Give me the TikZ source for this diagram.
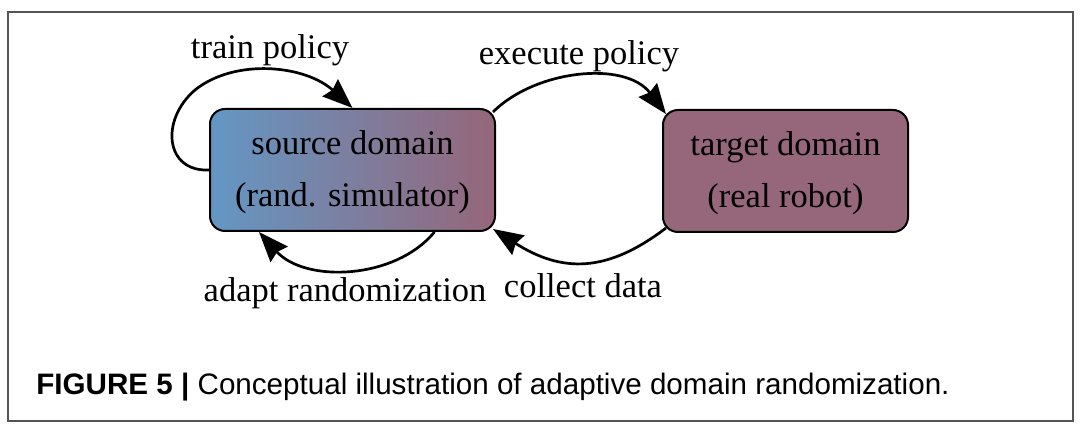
\documentclass[tikz,border=0pt]{standalone}
\usepackage{fontspec}
\setmainfont{Liberation Serif}
\newfontfamily\capfont{Liberation Sans}
\usetikzlibrary{arrows.meta}
\definecolor{srcblue}{RGB}{99,151,196}
\definecolor{mauve}{RGB}{150,102,122}
\definecolor{framegray}{RGB}{85,85,85}
\tikzset{
  domainbox/.style={draw=black, line width=1pt, rounded corners=7.5pt,
    align=center, inner sep=0pt, font=\fontsize{17.25}{26}\selectfont},
  flow/.style={draw=black, line width=1.35pt,
    -{Stealth[length=15pt,width=11.5pt,inset=1.5pt]}},
  lbl/.style={anchor=base, inner sep=0pt, font=\fontsize{17.25}{20}\selectfont},
}
\begin{document}
\begin{tikzpicture}[x=0.5pt, y=-0.5pt]
\useasboundingbox (0,0) rectangle (1084,432);
\draw[framegray, line width=0.75pt] (8,12) rectangle (1073,421);

\node[domainbox, left color=srcblue, right color=mauve,
      minimum width=142.5pt, minimum height=61pt] (src) at (352.5,170)
  {\rule{0pt}{14pt}source domain\\(rand. simulator)};
\node[domainbox, fill=mauve,
      minimum width=122.5pt, minimum height=61pt] (tgt) at (785.5,171)
  {\rule{0pt}{14pt}target domain\\(real robot)};

% train policy loop
\draw[flow] (src.west) .. controls (165,172) and (160,120) .. (195,90)
  .. controls (235,58) and (305,65) .. (src.north);
% execute policy
\draw[flow] ([shift={(-3,4)}]src.north east) .. controls (535,70) and (625,60) .. ([shift={(4,5)}]tgt.north west);
% collect data
\draw[flow] ([shift={(4,-5)}]tgt.south west) .. controls (607,273) and (562,273) .. ([shift={(-3,-3)}]src.south east);
% adapt randomization
\draw[flow] ([shift={(82,0)}]src.south) .. controls (395,280) and (305,283) .. ([shift={(-93.5,0)}]src.south);

\node[lbl] (ltrain) at (270,59) {train policy};
\node[lbl] (lexec) at (579,65) {execute policy};
\node[lbl] (ladapt) at (345,302) {adapt randomization};
\node[lbl] (lcoll) at (583,298) {collect data};

\node[anchor=base west, inner sep=0pt, font=\capfont\fontsize{14.8}{17}\selectfont] (cap) at (36,395)
  {\textbf{FIGURE 5 |} Conceptual illustration of adaptive domain randomization.};
\end{tikzpicture}
\end{document}
